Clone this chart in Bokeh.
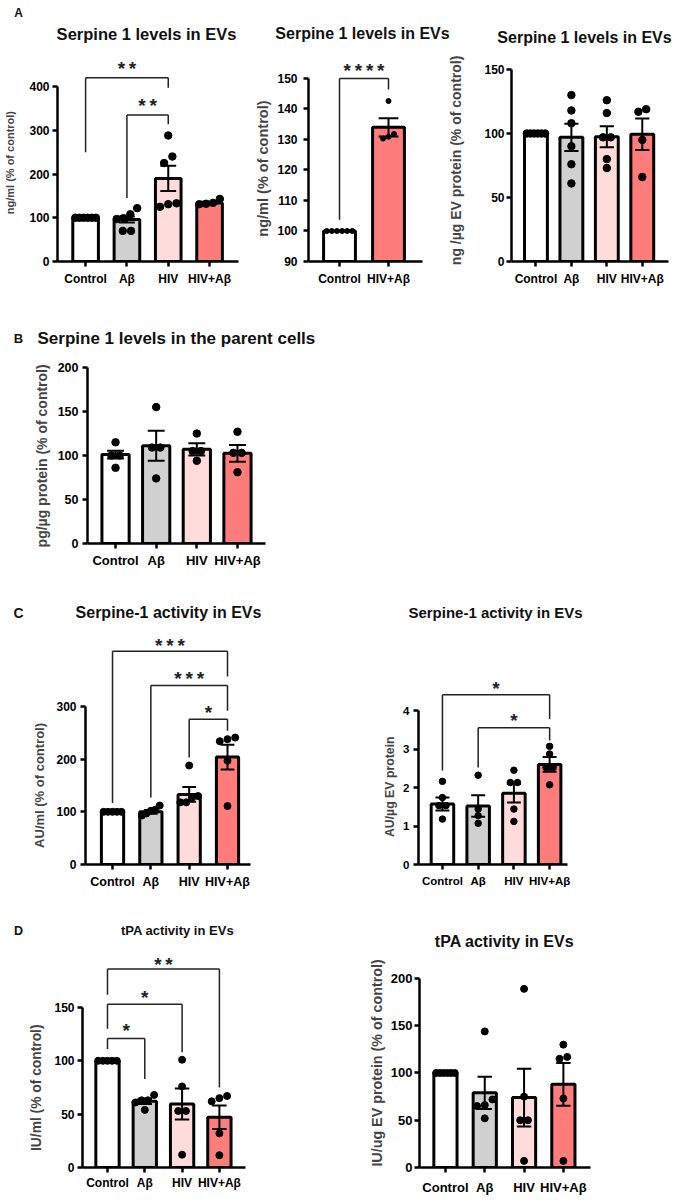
from bokeh.plotting import figure
from bokeh.models import Label, FixedTicker, Range1d
from bokeh.layouts import column, row
from bokeh.embed import file_html
from bokeh.resources import INLINE

FONT = "Liberation Sans"
GROUPS = ["Control", "Aβ", "HIV", "HIV+Aβ"]
FILLS = {"Control": "#ffffff", "Aβ": "#d0d0d0", "HIV": "#ffdcdc", "HIV+Aβ": "#ff7c7c"}

# ---------------- data ----------------
# Panel A (left): Serpine 1 levels in EVs, ng/ml
a1_groups = GROUPS
a1_means = [100, 96, 190, 134]
a1_sems = [0, 7, 29, 2.5]
a1_points = [[100] * 6, [122, 108, 99, 97, 70, 70], [288, 240, 225, 133, 131, 125], [143, 134, 132, 131]]
a1_ticks = [0, 100, 200, 300, 400]
a1_brackets = [("Control", "HIV", 420, 250, 397, 452, "**"),
               ("Aβ", "HIV", 335, 145, 314, 368, "**")]

# Panel A (middle)
a2_groups = ["Control", "HIV+Aβ"]
a2_means = [100, 134]
a2_sems = [0, 3]
a2_points = [[100] * 6, [142.6, 131.8, 130.3, 130.9]]
a2_ticks = [90, 100, 110, 120, 130, 140, 150]
a2_brackets = [("Control", "HIV+Aβ", 150, 103.7, 146.4, 154.4, "****")]

# Panel A (right)
a3_groups = GROUPS
a3_means = [100, 97, 97.5, 99.5]
a3_sems = [0, 10.7, 8.2, 12.3]
a3_points = [[100] * 6, [130, 118, 108, 90, 76, 61], [126, 116, 97, 97, 80, 73], [117, 119, 95, 66]]
a3_ticks = [0, 50, 100, 150]

# Panel B
b_groups = GROUPS
b_means = [101, 111, 107, 102.5]
b_sems = [4.5, 17, 7, 9.5]
b_points = [[115, 100, 100, 86], [155, 109, 109, 74], [125, 105, 105, 94], [127, 103, 103, 81]]
b_ticks = [0, 50, 100, 150, 200]

# Panel C (left)
c1_groups = GROUPS
c1_means = [100, 100, 133, 204]
c1_sems = [0, 3.5, 14, 23.5]
c1_points = [[100] * 5, [112, 104, 102, 97, 93], [188, 130, 127, 118, 118], [241, 238, 234, 197, 111]]
c1_ticks = [0, 100, 200, 300]
c1_brackets = [("Control", "HIV+Aβ", 405, 117, 357, 425, "***"),
               ("Aβ", "HIV+Aβ", 340, 127, 292, 362, "***"),
               ("HIV", "HIV+Aβ", 276, 203, 254, 298, "*")]

# Panel C (right)
c2_groups = GROUPS
c2_means = [1.57, 1.52, 1.85, 2.6]
c2_sems = [0.17, 0.28, 0.24, 0.19]
c2_points = [[2.16, 1.74, 1.53, 1.53, 1.18], [2.32, 1.44, 1.27, 1.07],
             [2.45, 2.13, 2.13, 1.44, 1.12], [3.07, 2.87, 2.52, 2.52, 2.07]]
c2_ticks = [0, 1, 2, 3, 4]
c2_brackets = [("Control", "HIV+Aβ", 4.41, 2.44, 3.78, 4.69, "*"),
               ("Aβ", "HIV+Aβ", 3.55, 2.52, 3.22, 3.87, "*")]

# Panel D (left)
d1_groups = GROUPS
d1_means = [100, 62, 59.5, 47]
d1_sems = [0.5, 2.5, 14.5, 11]
d1_points = [[100] * 5, [68, 63, 63, 61, 54], [101, 76, 53, 53, 12], [67, 65, 62, 32, 11.5]]
d1_ticks = [0, 50, 100, 150]
d1_brackets = [("Control", "HIV+Aβ", 186, 162, 75, 195, "**"),
               ("Control", "HIV", 153, 130, 108, 164, "*"),
               ("Control", "Aβ", 121, 111, 83, 133, "*")]

# Panel D (right)
d2_groups = GROUPS
d2_means = [100, 79, 74, 88]
d2_sems = [0, 17, 30.5, 22.7]
d2_points = [[100] * 6, [144, 72, 66, 65, 52], [189, 75, 50, 50, 7], [130, 117, 115, 73, 7]]
d2_ticks = [0, 50, 100, 150, 200]

TITLE_A = "Serpine 1 levels in EVs"
TITLE_B = "Serpine 1 levels in the parent cells"
TITLE_C = "Serpine-1 activity in EVs"
TITLE_D = "tPA activity in EVs"

PAGE_W = 674


def spread(vals, pxy, pxx, bar_px, dot):
    order = sorted(range(len(vals)), key=lambda k: vals[k])
    clusters, cur = [], [order[0]]
    for k in order[1:]:
        if (vals[k] - vals[cur[-1]]) * pxy < dot * 0.9:
            cur.append(k)
        else:
            clusters.append(cur)
            cur = [k]
    clusters.append(cur)
    off = [0.0] * len(vals)
    for c in clusters:
        n = len(c)
        if n > 1:
            sp = min(dot * 1.1, 0.8 * bar_px / (n - 1))
            for i, k in enumerate(c):
                off[k] = (i - (n - 1) / 2) * sp / pxx
    return off


def header(y0, y1, texts):
    h = figure(width=PAGE_W, height=y1 - y0, x_range=Range1d(0, PAGE_W), y_range=Range1d(y1, y0),
               output_backend="svg", toolbar_location=None, tools="", x_axis_type=None,
               y_axis_type=None, title=None, min_border_left=0, min_border_right=0,
               min_border_top=0, min_border_bottom=0)
    h.outline_line_color = None
    for txt, X, Y, size, align in texts:
        h.add_layout(Label(x=X, y=Y, text=txt, text_font=FONT, text_font_style="bold",
                           text_font_size=f"{size}px", text_align=align, text_baseline="middle",
                           text_color="#111111"))
    return row(h)


def build(groups, means, sems, points, ticks, ylabel, brackets, cfg):
    fx0, fx1, fy0, fy1 = cfg["fig"]
    L, R, T, B = cfg["frame"]
    xs, xe = cfg["xr"]
    ys, ye = cfg["yr"]
    p = figure(width=fx1 - fx0, height=fy1 - fy0, x_range=Range1d(xs, xe), y_range=Range1d(ys, ye),
               output_backend="svg", toolbar_location=None, tools="", title=None,
               min_border_left=L - fx0, min_border_right=fx1 - R,
               min_border_top=T - fy0, min_border_bottom=fy1 - B)
    p.outline_line_color = None
    p.xgrid.grid_line_color = None
    p.ygrid.grid_line_color = None
    n = len(groups)
    xc = list(range(n))
    bw = cfg["bw"]
    p.vbar(x=xc, top=means, bottom=ys, width=bw, fill_color=[FILLS[g] for g in groups],
           line_color="black", line_width=3)
    # error bars (mean ± SEM)
    cw = bw * 0.31
    x0s, y0s, x1s, y1s = [], [], [], []
    for i in range(n):
        if sems[i] > 0:
            lo, hi = means[i] - sems[i], means[i] + sems[i]
            x0s += [i, i - cw, i - cw]
            x1s += [i, i + cw, i + cw]
            y0s += [lo, hi, lo]
            y1s += [hi, hi, lo]
    if x0s:
        p.segment(x0=x0s, y0=y0s, x1=x1s, y1=y1s, line_color="black", line_width=2)
    # individual points
    pxy = (B - T) / (ye - ys)
    pxx = (R - L) / (xe - xs)
    px, py = [], []
    for i in range(n):
        off = spread(points[i], pxy, pxx, bw * pxx, cfg["dot"])
        px += [i + o for o in off]
        py += list(points[i])
    p.scatter(x=px, y=py, size=cfg["dot"], color="black")
    # significance brackets
    if brackets:
        bx0, by0, bx1, by1 = [], [], [], []
        for g1, g2, yb, l1, l2, ystar, txt in brackets:
            i1, i2 = groups.index(g1), groups.index(g2)
            bx0 += [i1, i1, i2]
            by0 += [yb, yb, yb]
            bx1 += [i2, i1, i2]
            by1 += [yb, l1, l2]
            p.add_layout(Label(x=(i1 + i2) / 2, y=ystar, text="\u2009".join(txt), text_font=FONT,
                               text_font_style="bold", text_font_size="19px", text_align="center",
                               text_baseline="middle", y_offset=-5, text_color="#222222"))
        p.segment(x0=bx0, y0=by0, x1=bx1, y1=by1, line_color="#222222", line_width=1.5)
    # axes
    ya = p.yaxis[0]
    ya.ticker = FixedTicker(ticks=ticks)
    ya.bounds = (ticks[0], ticks[-1])
    # the axis title is centred on the frame; trailing no-break spaces move it down
    # so that it sits where the reference has it
    pad = round(2 * cfg["shift"] / (0.278 * cfg["lf"]))
    ya.axis_label = ylabel + "\u00a0" * pad
    ya.axis_label_text_font = FONT
    ya.axis_label_text_font_style = "bold"
    ya.axis_label_text_font_size = f"{cfg['lf']}px"
    ya.axis_label_standoff = cfg["als"]
    ya.major_label_standoff = cfg["mls"]
    ya.major_label_text_font_size = f"{cfg['tf']}px"
    xa = p.xaxis[0]
    xa.ticker = FixedTicker(ticks=xc)
    xa.major_label_overrides = {i: g for i, g in enumerate(groups)}
    xa.major_label_standoff = cfg["xls"]
    xa.major_label_text_font_size = f"{cfg['xf']}px"
    for ax in (xa, ya):
        ax.axis_line_width = 2.5
        ax.axis_line_color = "black"
        ax.major_tick_line_width = 2.5
        ax.major_tick_line_color = "black"
        ax.major_tick_out = 5
        ax.major_tick_in = 0
        ax.minor_tick_line_color = None
        ax.major_label_text_font = FONT
        ax.major_label_text_font_style = "bold"
        ax.major_label_text_color = "black"
    return p


hA = header(0, 46, [("A", 18, 12, 12, "center"), (TITLE_A, 146, 33, 16.5, "center"),
                    (TITLE_A, 362, 33, 16, "center"), (TITLE_A, 584, 37, 16, "center")])
pA1 = build(a1_groups, a1_means, a1_sems, a1_points, a1_ticks, "ng/ml (% of control)", a1_brackets,
            dict(fig=(0, 245, 46, 295), frame=(57, 238, 51, 261), xr=(-0.68, 3.70), yr=(0, 480),
                 bw=0.62, dot=7.5, tf=12, xf=12, lf=11, als=10, mls=3, xls=5, shift=5.5))
pA2 = build(a2_groups, a2_means, a2_sems, a2_points, a2_ticks, "ng/ml (% of control)", a2_brackets,
            dict(fig=(245, 445, 46, 295), frame=(308, 422, 51, 261), xr=(-0.633, 1.694), yr=(90, 158.85),
                 bw=0.65, dot=5, tf=12, xf=12, lf=14.5, als=3, mls=6, xls=5, shift=12.5))
pA3 = build(a3_groups, a3_means, a3_sems, a3_points, a3_ticks, "ng /µg EV protein (% of control)", None,
            dict(fig=(445, PAGE_W, 46, 295), frame=(501, 668, 51, 261), xr=(-0.69, 3.74), yr=(0, 164.06),
                 bw=0.645, dot=7.5, tf=12, xf=12, lf=14, als=17, mls=2, xls=5, shift=4))

hB = header(295, 352, [("B", 18, 338, 13, "center"), (TITLE_B, 37, 338, 17, "left")])
pB = build(b_groups, b_means, b_sems, b_points, b_ticks, "pg/µg protein (% of control)", None,
           dict(fig=(0, PAGE_W, 352, 580), frame=(87, 265, 360, 543), xr=(-0.69, 3.69), yr=(0, 207.95),
                bw=0.67, dot=7.5, tf=12.5, xf=13, lf=14, als=5, mls=4, xls=4, shift=3.5))

hC = header(580, 625, [("C", 18, 612, 14, "center"), (TITLE_C, 168, 612, 16, "center"),
                       (TITLE_C, 495, 612, 15, "center")])
pC1 = build(c1_groups, c1_means, c1_sems, c1_points, c1_ticks, "AU/ml (% of control)", c1_brackets,
            dict(fig=(0, 340, 625, 895), frame=(85, 250, 630, 864), xr=(-0.705, 3.60), yr=(0, 444.3),
                 bw=0.58, dot=7, tf=12, xf=12.5, lf=13, als=6, mls=4, xls=5, shift=37.5))
pC2 = build(c2_groups, c2_means, c2_sems, c2_points, c2_ticks, "AU/µg EV protein", c2_brackets,
            dict(fig=(340, PAGE_W, 625, 895), frame=(418, 567, 630, 864), xr=(-0.67, 3.50), yr=(0, 6.08),
                 bw=0.63, dot=6.5, tf=11.5, xf=11.5, lf=12.3, als=3, mls=4, xls=5, shift=39.5))

hD = header(895, 949, [("D", 18, 930, 12.5, "center"), (TITLE_D, 177, 930, 13, "center"),
                       (TITLE_D, 504, 941, 16, "center")])
pD1 = build(d1_groups, d1_means, d1_sems, d1_points, d1_ticks, "IU/ml (% of control)", d1_brackets,
            dict(fig=(0, 340, 949, 1198), frame=(82, 245, 950, 1167), xr=(-0.67, 3.70), yr=(0, 203.4),
                 bw=0.625, dot=7, tf=12, xf=12, lf=13.8, als=7, mls=3, xls=3, shift=28))
pD2 = build(d2_groups, d2_means, d2_sems, d2_points, d2_ticks, "IU/ug EV protein (% of control)", None,
            dict(fig=(340, PAGE_W, 949, 1198), frame=(419, 590, 950, 1167), xr=(-0.66, 3.69), yr=(0, 229.6),
                 bw=0.59, dot=7, tf=13, xf=13, lf=14.3, als=3, mls=2, xls=7, shift=4))

layout = column(hA, row(pA1, pA2, pA3), hB, row(pB), hC, row(pC1, pC2), hD, row(pD1, pD2))
open("out.html", "w").write(file_html(layout, INLINE))
